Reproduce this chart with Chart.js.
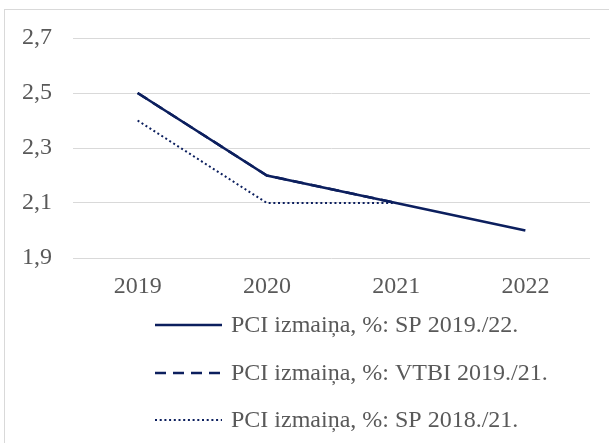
<!DOCTYPE html>
<html>
<head>
<meta charset="utf-8">
<script src="https://cdn.jsdelivr.net/npm/chart.js@4/dist/chart.umd.min.js"></script>
<style>
html,body{margin:0;padding:0;background:#fff;}
#wrap{width:609px;height:443px;position:relative;}
</style>
</head>
<body>
<div id="wrap"><canvas id="c" width="609" height="443"></canvas></div>
<script>
const categories = ['2019', '2020', '2021', '2022'];
const seriesNames = ['PCI izmaiņa, %: SP 2019./22.', 'PCI izmaiņa, %: VTBI 2019./21.', 'PCI izmaiņa, %: SP 2018./21.'];
const sp2019_22 = [2.5, 2.2, 2.1, 2.0];
const vtbi2019_21 = [2.5, 2.2, 2.1, null];
const sp2018_21 = [2.4, 2.1, 2.1, null];
const yTicks = [1.9, 2.1, 2.3, 2.5, 2.7];

const NAVY = '#0c1f5e';
const TXT = '#595959';
const FONT = '"Liberation Serif", "Times New Roman", serif';

const dashes = [[], [11, 7], [2, 2.7]];
const widths = [2.5, 2.5, 2];

const legendPlugin = {
  id: 'customLegend',
  beforeDraw(chart) {
    const ctx = chart.ctx;
    ctx.save();
    ctx.fillStyle = '#fff';
    ctx.fillRect(0, 0, chart.width, chart.height);
    ctx.strokeStyle = '#d9d9d9';
    ctx.lineWidth = 1;
    ctx.strokeRect(4.5, 9.5, 700, 600);
    ctx.restore();
  },
  afterDraw(chart) {
    const ctx = chart.ctx;
    ctx.save();
    const x0 = 155, x1 = 222, tx = 231;
    const rows = [325, 373, 420];
    chart.data.datasets.forEach((ds, i) => {
      const y = rows[i];
      ctx.strokeStyle = ds.borderColor;
      ctx.lineWidth = ds.borderWidth;
      ctx.setLineDash(ds.borderDash || []);
      ctx.beginPath();
      ctx.moveTo(x0, y);
      ctx.lineTo(x1, y);
      ctx.stroke();
      ctx.setLineDash([]);
      ctx.fillStyle = TXT;
      ctx.font = '24px ' + FONT;
      ctx.textBaseline = 'middle';
      ctx.textAlign = 'left';
      ctx.fillText(ds.label, tx, y + 1);
    });
    ctx.restore();
  }
};

const datasets = [sp2019_22, vtbi2019_21, sp2018_21].map((d, i) => ({
  label: seriesNames[i],
  data: d,
  borderColor: NAVY,
  backgroundColor: NAVY,
  borderWidth: widths[i],
  borderDash: dashes[i],
  borderCapStyle: 'butt',
  pointRadius: 0,
  tension: 0,
  fill: false,
  spanGaps: false
}));

new Chart(document.getElementById('c'), {
  type: 'line',
  data: { labels: categories, datasets },
  options: {
    responsive: false,
    animation: false,
    events: [],
    layout: { padding: { left: 0, right: 19, top: 38, bottom: 125 } },
    plugins: { legend: { display: false }, tooltip: { enabled: false } },
    scales: {
      x: {
        offset: true,
        grid: { display: false, drawTicks: false },
        border: { display: false },
        ticks: { color: TXT, font: { family: FONT, size: 24 }, padding: 14, maxRotation: 0 },
        afterFit(s) { s.height = 60; }
      },
      y: {
        min: 1.9,
        max: 2.7,
        afterBuildTicks(s) { s.ticks = yTicks.map(v => ({ value: v })); },
        grid: { color: '#d9d9d9', lineWidth: 1, drawTicks: false },
        border: { display: false },
        ticks: {
          color: TXT,
          font: { family: FONT, size: 24 },
          padding: 21,
          callback: v => Number(v).toFixed(1).replace('.', ',')
        },
        afterFit(s) { s.width = 73; }
      }
    }
  },
  plugins: [legendPlugin]
});
</script>
</body>
</html>
